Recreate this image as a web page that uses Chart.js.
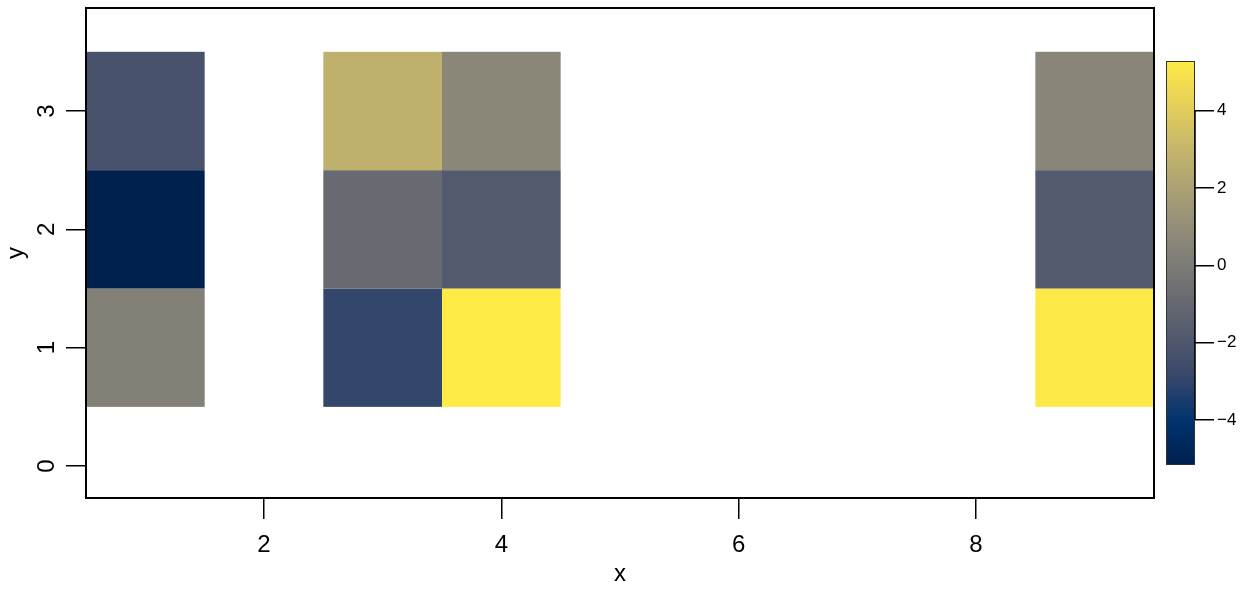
<!DOCTYPE html>
<html>
<head>
<meta charset="utf-8">
<script src="https://cdn.jsdelivr.net/npm/chart.js@4/dist/chart.umd.min.js"></script>
<style>
  html, body { margin: 0; padding: 0; background: #fff; }
  #wrap { position: relative; width: 1242px; height: 589px; }
  #main { position: absolute; left: 0; top: 0; }
  #bar { position: absolute; left: 1150px; top: 40px; }
</style>
</head>
<body>
<div id="wrap">
  <canvas id="main" width="1242" height="589"></canvas>
  <canvas id="bar" width="92" height="450"></canvas>
</div>
<script>
// columns / rows of the image grid
const colX = [1, 3, 4, 9];
const rowY = [1, 2, 3];
// z values for each column, bottom to top (y = 1, 2, 3)
const zCol1 = [0.28, -5.16, -2.24];
const zCol3 = [-2.97, -0.88, 2.77];
const zCol4 = [5.28, -1.82, 0.64];
const zCol9 = [5.2, -1.82, 0.58];
const zCols = [zCol1, zCol3, zCol4, zCol9];

const xTicks = [2, 4, 6, 8];
const yTicks = [0, 1, 2, 3];
const zTicks = [-4, -2, 0, 2, 4];

const zMin = Math.min(...zCols.flat());
const zMax = Math.max(...zCols.flat());

// cividis palette stops
const cividis = ['#00204D', '#00336F', '#39486B', '#575C6D', '#707173',
                 '#8A8779', '#A69D75', '#C4B56C', '#E4CF5B', '#FFEA46'];

function hexToRgb(h) {
    return [parseInt(h.slice(1, 3), 16), parseInt(h.slice(3, 5), 16), parseInt(h.slice(5, 7), 16)];
}
const cividisRgb = cividis.map(hexToRgb);

function colorFor(v) {
    let t = (v - zMin) / (zMax - zMin);
    t = Math.max(0, Math.min(1, t));
    const pos = t * (cividisRgb.length - 1);
    const i = Math.min(Math.floor(pos), cividisRgb.length - 2);
    const f = pos - i;
    const a = cividisRgb[i], b = cividisRgb[i + 1];
    const c = a.map((ch, k) => Math.round(ch + (b[k] - ch) * f));
    return `rgb(${c[0]},${c[1]},${c[2]})`;
}

const cells = [];
colX.forEach((x, i) => {
    rowY.forEach((y, j) => {
        cells.push({ x: x, y: y, v: zCols[i][j] });
    });
});

const FONT = "'Liberation Sans', Arial, sans-serif";

// draws the heatmap cells, frame and rotated y labels
const imagePlugin = {
    id: 'imagePlugin',
    beforeDatasetsDraw(chart) {
        const ctx = chart.ctx;
        const xs = chart.scales.x, ys = chart.scales.y;
        ctx.save();
        chart.data.datasets[0].data.forEach(c => {
            const x0 = xs.getPixelForValue(c.x - 0.5);
            const x1 = xs.getPixelForValue(c.x + 0.5);
            const y0 = ys.getPixelForValue(c.y + 0.5);
            const y1 = ys.getPixelForValue(c.y - 0.5);
            ctx.fillStyle = colorFor(c.v);
            ctx.fillRect(x0, y0, x1 - x0, y1 - y0);
        });
        ctx.restore();
    },
    afterDraw(chart) {
        const ctx = chart.ctx;
        const a = chart.chartArea;
        const ys = chart.scales.y;
        ctx.save();
        ctx.strokeStyle = '#000';
        ctx.lineWidth = 2;
        ctx.strokeRect(a.left, a.top, a.right - a.left, a.bottom - a.top);

        ctx.fillStyle = '#000';
        ctx.font = '24px ' + FONT;
        ctx.textAlign = 'center';
        ctx.textBaseline = 'alphabetic';
        yTicks.forEach(v => {
            const py = ys.getPixelForValue(v);
            ctx.save();
            ctx.translate(54, py);
            ctx.rotate(-Math.PI / 2);
            ctx.fillText(String(v), 0, 0);
            ctx.restore();
        });
        ctx.restore();
    }
};

new Chart(document.getElementById('main'), {
    type: 'scatter',
    data: {
        datasets: [{
            data: cells,
            pointRadius: 0,
            pointHoverRadius: 0
        }]
    },
    options: {
        responsive: false,
        animation: false,
        events: [],
        layout: { padding: { left: 0, right: 88, top: 8, bottom: 0 } },
        plugins: { legend: { display: false }, tooltip: { enabled: false } },
        scales: {
            x: {
                type: 'linear',
                min: 0.5,
                max: 9.5,
                afterBuildTicks: s => { s.ticks = xTicks.map(v => ({ value: v })); },
                afterFit: s => { s.height = 91; },
                border: { display: false },
                grid: { drawOnChartArea: false, tickLength: 21, color: '#000', lineWidth: 1.5 },
                ticks: { color: '#000', font: { size: 24, family: FONT }, padding: 12, maxRotation: 0 },
                title: { display: true, text: 'x', color: '#000', font: { size: 24, family: FONT }, padding: 0 }
            },
            y: {
                type: 'linear',
                min: -0.27,
                max: 3.87,
                afterBuildTicks: s => { s.ticks = yTicks.map(v => ({ value: v })); },
                afterFit: s => { s.width = 86; },
                border: { display: false },
                grid: { drawOnChartArea: false, tickLength: 20, color: '#000', lineWidth: 1.5 },
                ticks: { display: false },
                title: { display: true, text: 'y', color: '#000', font: { size: 24, family: FONT }, padding: { top: 2, bottom: 0 } }
            }
        }
    },
    plugins: [imagePlugin]
});

// colour key
const keyPlugin = {
    id: 'keyPlugin',
    beforeDatasetsDraw(chart) {
        const ctx = chart.ctx;
        const a = chart.chartArea;
        const ys = chart.scales.y;
        ctx.save();
        for (let py = Math.floor(a.top); py < a.bottom; py++) {
            const v = ys.getValueForPixel(py + 0.5);
            ctx.fillStyle = colorFor(v);
            ctx.fillRect(a.left, py, a.right - a.left, 1);
        }
        ctx.strokeStyle = '#333';
        ctx.lineWidth = 1;
        ctx.strokeRect(a.left + 0.5, a.top + 0.5, a.right - a.left - 1, a.bottom - a.top - 1);
        // axis line between first and last tick
        ctx.strokeStyle = '#000';
        ctx.lineWidth = 1.5;
        ctx.beginPath();
        ctx.moveTo(a.right, ys.getPixelForValue(zTicks[0]));
        ctx.lineTo(a.right, ys.getPixelForValue(zTicks[zTicks.length - 1]));
        ctx.stroke();
        ctx.restore();
    }
};

new Chart(document.getElementById('bar'), {
    type: 'scatter',
    data: { datasets: [{ data: [], pointRadius: 0 }] },
    options: {
        responsive: false,
        animation: false,
        events: [],
        layout: { padding: { left: 16, right: 0, top: 21, bottom: 25 } },
        plugins: { legend: { display: false }, tooltip: { enabled: false } },
        scales: {
            x: { display: false, min: 0, max: 1 },
            y: {
                type: 'linear',
                position: 'right',
                min: zMin,
                max: zMax,
                afterBuildTicks: s => { s.ticks = zTicks.map(v => ({ value: v })); },
                afterFit: s => { s.width = 47; },
                border: { display: false },
                grid: { drawOnChartArea: false, tickLength: 19, color: '#000', lineWidth: 1.5 },
                ticks: {
                    color: '#000',
                    font: { size: 17, family: FONT },
                    padding: 3,
                    callback: v => String(v).replace('-', '\u2212')
                }
            }
        }
    },
    plugins: [keyPlugin]
});
</script>
</body>
</html>
